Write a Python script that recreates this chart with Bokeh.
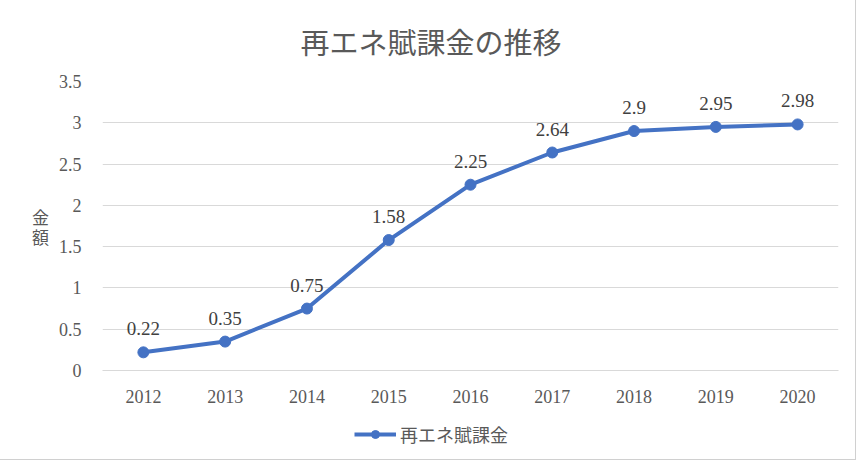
from bokeh.plotting import figure
from bokeh.layouts import column
from bokeh.models import (ColumnDataSource, FactorRange, Range1d, FixedTicker,
                          Legend, LegendItem, InlineStyleSheet)
from bokeh.core.properties import value
from bokeh.embed import file_html
from bokeh.resources import INLINE

# ---- data ----
years = ["2012", "2013", "2014", "2015", "2016", "2017", "2018", "2019", "2020"]
amounts = [0.22, 0.35, 0.75, 1.58, 2.25, 2.64, 2.9, 2.95, 2.98]
amount_labels = ["0.22", "0.35", "0.75", "1.58", "2.25", "2.64", "2.9", "2.95", "2.98"]
y_ticks = [0, 0.5, 1, 1.5, 2, 2.5, 3, 3.5]
y_tick_labels = ["0", "0.5", "1", "1.5", "2", "2.5", "3", "3.5"]
title_text = "再エネ賦課金の推移"
series_name = "再エネ賦課金"
y_axis_title = "金\n額"

NUM_FONT = "Liberation Serif"
CJK_FONT = "Noto Sans CJK JP"
BLUE = "#4472C4"
GRID = "#d9d9d9"
TEXT = "#595959"

source = ColumnDataSource(dict(year=years, amount=amounts, label=amount_labels))

W = 855
p = figure(width=W, height=405,
           x_range=FactorRange(*years), y_range=Range1d(0, 3.5),
           output_backend="svg", toolbar_location=None,
           min_border_left=102, min_border_right=17,
           min_border_top=81, min_border_bottom=34)

p.outline_line_color = None
p.background_fill_color = "white"
p.border_fill_color = "white"

# title
p.title.text = title_text
p.title.align = "left"
p.title.offset = 198
p.title.vertical_align = "top"
p.title.text_font = CJK_FONT
p.title.text_font_size = "29px"
p.title.text_font_style = "normal"
p.title.text_color = TEXT
p.title.standoff = 36

# grids
p.xgrid.visible = False
p.ygrid.grid_line_color = GRID
p.ygrid.grid_line_width = 1

# y axis
p.yaxis.ticker = FixedTicker(ticks=y_ticks)
p.yaxis.major_label_overrides = {t: l for t, l in zip(y_ticks, y_tick_labels)}
p.yaxis.axis_line_color = None
p.yaxis.major_tick_line_color = None
p.yaxis.minor_tick_line_color = None
p.yaxis.major_label_standoff = 15
p.yaxis.major_label_text_font = NUM_FONT
p.yaxis.major_label_text_font_size = "18px"
p.yaxis.major_label_text_color = TEXT
p.yaxis.axis_label = y_axis_title
p.yaxis.axis_label_orientation = "horizontal"
p.yaxis.axis_label_text_font = CJK_FONT
p.yaxis.axis_label_text_font_size = "17px"
p.yaxis.axis_label_text_font_style = "normal"
p.yaxis.axis_label_text_color = TEXT
p.yaxis.axis_label_text_line_height = 0.8
p.yaxis.axis_label_standoff = 7

# x axis
p.xaxis.axis_line_color = GRID
p.xaxis.major_tick_line_color = None
p.xaxis.minor_tick_line_color = None
p.xaxis.major_label_standoff = 13
p.xaxis.major_label_text_font = NUM_FONT
p.xaxis.major_label_text_font_size = "18px"
p.xaxis.major_label_text_color = TEXT

# series
p.line(x="year", y="amount", source=source, line_width=4, line_color=BLUE)
p.scatter(x="year", y="amount", source=source, size=11,
          fill_color=BLUE, line_color=BLUE)

p.text(x="year", y="amount", text="label", source=source,
       y_offset=-17, text_align="center", text_baseline="bottom",
       text_font=value(NUM_FONT), text_font_size="19px", text_color="#404040")

# legend strip (same series drawn off-view so the legend glyph matches)
lg = figure(width=W, height=54,
            x_range=FactorRange(*years), y_range=Range1d(10, 11),
            output_backend="svg", toolbar_location=None, min_border=0,
            x_axis_location=None, y_axis_location=None)
lg.outline_line_color = None
lg.xgrid.visible = False
lg.ygrid.visible = False
lg_line = lg.line(x="year", y="amount", source=source, line_width=4, line_color=BLUE)
lg_dot = lg.scatter(x="year", y="amount", source=source, size=11,
                    fill_color=BLUE, line_color=BLUE)
legend = Legend(items=[LegendItem(label=series_name, renderers=[lg_line, lg_dot])],
                orientation="horizontal", location=(252, 12),
                border_line_color=None, background_fill_alpha=0,
                label_text_font=CJK_FONT, label_text_font_size="18px",
                label_text_color=TEXT, glyph_width=42, glyph_height=20,
                label_standoff=4, margin=0, padding=0)
lg.add_layout(legend, "center")

layout = column(p, lg, spacing=0)
layout.stylesheets = [InlineStyleSheet(css=":host { outline: 1px solid #d0d0d0; }")]

open("out.html", "w").write(file_html(layout, INLINE))
